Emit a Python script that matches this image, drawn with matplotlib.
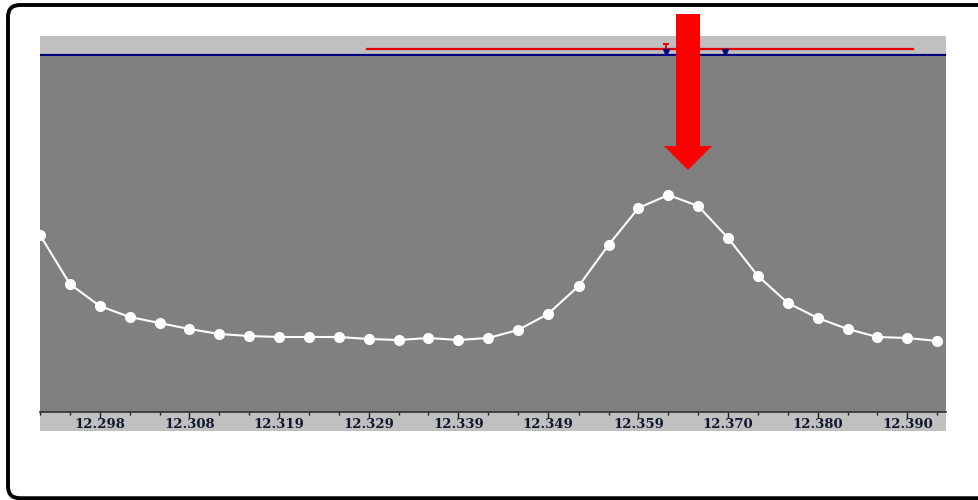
import matplotlib.pyplot as plt
from matplotlib.patches import PathPatch, Polygon
from matplotlib.path import Path
from matplotlib.transforms import IdentityTransform

# retention time (min) of each scan and its intensity
times = [12.2913, 12.2947, 12.2981, 12.3015, 12.3049, 12.3083, 12.3117, 12.3151,
         12.3185, 12.3219, 12.3253, 12.3287, 12.3321, 12.3355, 12.3389, 12.3423,
         12.3457, 12.3491, 12.3526, 12.3560, 12.3594, 12.3628, 12.3662, 12.3696,
         12.3730, 12.3764, 12.3798, 12.3832, 12.3866, 12.3900, 12.3934]
intensity = [177, 128, 106, 95, 89, 83, 78, 76, 75, 75, 75, 73, 72, 74, 72, 74,
             82, 98, 126, 167, 204, 217, 206, 174, 136, 109, 94, 83, 75, 74, 71]
tick_labels = ['12.298', '12.308', '12.319', '12.329', '12.339',
               '12.349', '12.359', '12.370', '12.380', '12.390']

# integration window and peak markers shown in the header strip
window = (12.3285, 12.3906)
apex_mark = 12.3625
bound_marks = [12.3625, 12.3692]

W, H = 979, 500
fig = plt.figure(figsize=(W / 100, H / 100), dpi=100)


def px_rect(x0, y0, x1, y1):
    return [x0 / W, 1 - y1 / H, (x1 - x0) / W, (y1 - y0) / H]


def bare(a):
    a.set_xticks([])
    a.set_yticks([])
    for s in a.spines.values():
        s.set_visible(False)


xmin, xmax = times[0], times[-1] + 0.001

# grey band behind the tick labels
band = fig.add_axes(px_rect(40, 412, 946, 431))
band.set_facecolor('#C0C0C0')
bare(band)

# header strip
top = fig.add_axes(px_rect(40, 36, 946, 56))
top.set_facecolor('#C0C0C0')
bare(top)
top.set_xlim(xmin, xmax)
top.set_ylim(0, 20)
top.axhline(1.5, color='#000080', lw=1.6)
top.plot(window, [7, 7], color='#E00000', lw=1.6)
T = Path([(-1, 1), (1, 1), (0, 1), (0, -1)],
         [Path.MOVETO, Path.LINETO, Path.MOVETO, Path.LINETO])
top.plot([apex_mark], [9.5], marker=T, ms=5, mew=1.4, color='#E00000', ls='none')
top.plot(bound_marks, [4.2, 4.2], marker='v', ms=5, color='#000080', ls='none')

# main chromatogram
ax = fig.add_axes(px_rect(40, 56, 946, 412))
ax.set_facecolor('#808080')
ax.plot(times, intensity, color='white', lw=1.5, marker='o', ms=7,
        mec='white', mfc='white')
ax.set_xlim(xmin, xmax)
ax.set_ylim(0, 356)
ax.set_yticks([])
ax.set_xticks(times[2::3])
ax.set_xticklabels(tick_labels, fontfamily='DejaVu Serif', fontweight='bold',
                   fontsize=9.5, color='#101830')
ax.set_xticks(times, minor=True)
ax.tick_params(axis='x', which='major', length=4, width=1, color='#202020', pad=0.5)
ax.tick_params(axis='x', which='minor', length=2, width=1, color='#202020')
for side in ['top', 'left', 'right']:
    ax.spines[side].set_visible(False)
ax.spines['bottom'].set_color('#303030')
ax.spines['bottom'].set_linewidth(1.2)

# red arrow pointing to the apex
arrow_px = [(676, 14), (700, 14), (700, 146), (712, 146), (688, 170),
            (664, 146), (676, 146)]
fig.patches.append(Polygon([(x / W, 1 - y / H) for x, y in arrow_px], closed=True,
                           transform=fig.transFigure, facecolor='#FF0000',
                           edgecolor='none', zorder=10))

# frame: rounded on the left, running off the right edge
left, top_y, bot_y, r = 8, H - 5, 1.8, 12
frame = Path([(W + 50, top_y), (left + r, top_y), (left, top_y), (left, top_y - r),
              (left, bot_y + r), (left, bot_y), (left + r, bot_y), (W + 50, bot_y)],
             [Path.MOVETO, Path.LINETO, Path.CURVE3, Path.CURVE3,
              Path.LINETO, Path.CURVE3, Path.CURVE3, Path.LINETO])
fig.patches.append(PathPatch(frame, transform=IdentityTransform(), fill=False,
                             edgecolor='black', lw=2.8, zorder=11))

fig.savefig('out.png', dpi=100)
